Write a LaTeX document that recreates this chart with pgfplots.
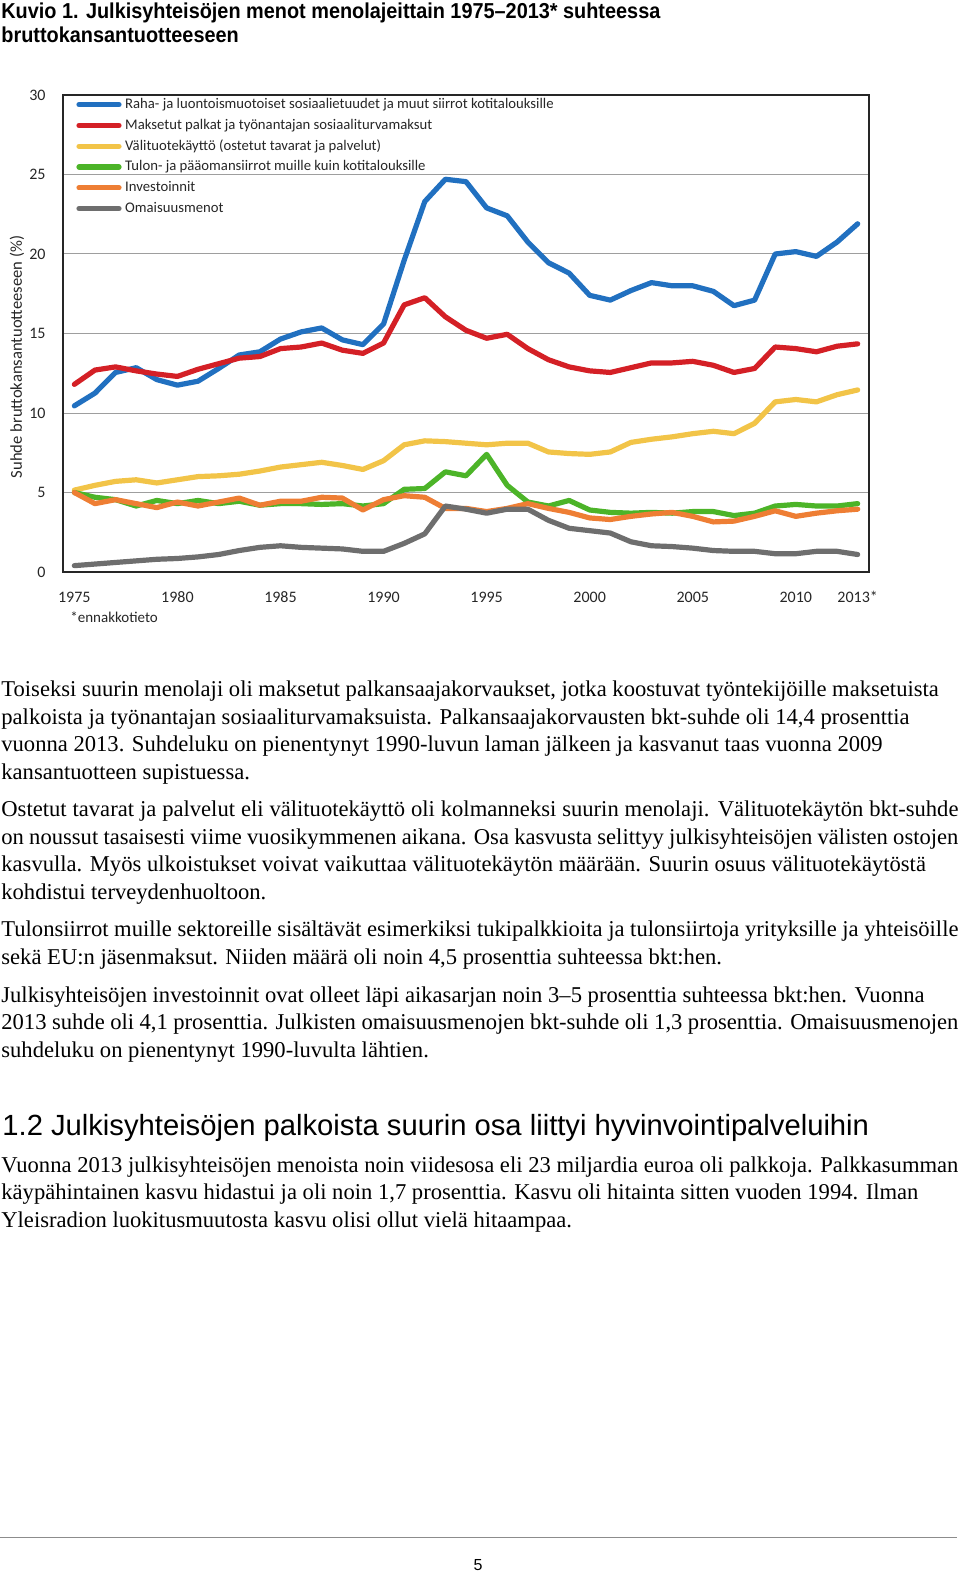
\documentclass[border=0pt]{standalone}
\usepackage{fontspec}
\setmainfont{Liberation Serif}
\newfontfamily\arialfont{Liberation Sans}
\newfontfamily\titlefont[FakeStretch=0.92]{Liberation Sans}
\newfontfamily\chartfont{Carlito}
\usepackage{pgfplots}
\usepackage{pgfplotstable}
\pgfplotsset{compat=1.18}

\definecolor{cblue}{RGB}{33,112,192}
\definecolor{cred}{RGB}{212,32,38}
\definecolor{cyellow}{RGB}{242,196,72}
\definecolor{cgreen}{RGB}{76,180,40}
\definecolor{corange}{RGB}{238,126,52}
\definecolor{cgray}{RGB}{110,110,110}

\newcommand{\fl}[1]{\makebox[478.5pt][s]{#1}}

% year, social benefits, wages, intermediate consumption, other transfers, investment, property
\pgfplotstableread{
year soc pay inter trans inv prop
1975 10.45 11.8 5.15 5.0 5.0 0.4
1976 11.25 12.7 5.45 4.7 4.3 0.5
1977 12.55 12.9 5.7 4.55 4.55 0.6
1978 12.85 12.65 5.8 4.15 4.3 0.7
1979 12.1 12.45 5.6 4.5 4.05 0.8
1980 11.75 12.3 5.8 4.3 4.4 0.85
1981 12.0 12.75 6.0 4.5 4.15 0.95
1982 12.8 13.1 6.05 4.3 4.4 1.1
1983 13.65 13.45 6.15 4.45 4.65 1.35
1984 13.85 13.55 6.35 4.2 4.2 1.55
1985 14.65 14.05 6.6 4.3 4.45 1.65
1986 15.1 14.15 6.75 4.3 4.45 1.55
1987 15.35 14.4 6.9 4.25 4.7 1.5
1988 14.6 13.95 6.7 4.3 4.65 1.45
1989 14.3 13.75 6.45 4.15 3.9 1.3
1990 15.6 14.4 7.0 4.3 4.55 1.3
1991 19.6 16.8 8.0 5.2 4.8 1.8
1992 23.3 17.25 8.25 5.25 4.7 2.4
1993 24.7 16.05 8.2 6.3 4.0 4.15
1994 24.55 15.2 8.1 6.05 4.0 3.95
1995 22.9 14.7 8.0 7.4 3.8 3.7
1996 22.4 14.95 8.1 5.45 4.0 3.95
1997 20.75 14.05 8.1 4.4 4.3 3.95
1998 19.45 13.35 7.55 4.15 4.0 3.25
1999 18.8 12.9 7.45 4.5 3.75 2.75
2000 17.4 12.65 7.4 3.9 3.4 2.6
2001 17.1 12.55 7.55 3.75 3.3 2.45
2002 17.7 12.85 8.15 3.7 3.5 1.9
2003 18.2 13.15 8.35 3.75 3.65 1.65
2004 18.0 13.15 8.5 3.7 3.75 1.6
2005 18.0 13.25 8.7 3.8 3.5 1.5
2006 17.65 13.0 8.85 3.8 3.15 1.35
2007 16.75 12.55 8.7 3.55 3.2 1.3
2008 17.1 12.8 9.35 3.7 3.5 1.3
2009 20.0 14.15 10.7 4.15 3.85 1.15
2010 20.15 14.05 10.85 4.25 3.5 1.15
2011 19.85 13.85 10.7 4.15 3.7 1.3
2012 20.75 14.2 11.15 4.15 3.85 1.3
2013 21.9 14.35 11.45 4.3 3.95 1.1
}\menot

\begin{document}
\begin{tikzpicture}
\useasboundingbox (0,0) rectangle (480pt,-786pt);

\begin{scope}[x=0.5pt,y=-0.5pt]
% title (base anchor = last line)
\node[anchor=base west, inner sep=0pt, align=left,
      font=\titlefont\bfseries\fontsize{10.8}{12}\selectfont] at (1,43)
  {Kuvio 1. Julkisyhteisöjen menot menolajeittain 1975–2013* suhteessa\\
   bruttokansantuotteeseen};

% chart texts
\node[rotate=90, inner sep=0pt, font=\chartfont\fontsize{8.3}{9}\selectfont, text=black!85]
  at (17,357) {Suhde bruttokansantuotteeseen (\%)};
\node[anchor=base west, inner sep=0pt, font=\chartfont\fontsize{7.5}{9}\selectfont, text=black!85]
  at (70,622) {*ennakkotieto};

% body text (base anchor = last line)
\begin{scope}[every node/.style={anchor=base west, inner sep=0pt, align=left,
      font=\fontsize{11.3}{13.75}\selectfont}]
\node at (1,779) {Toiseksi suurin menolaji oli maksetut palkansaajakorvaukset, jotka koostuvat työntekijöille maksetuista\\
palkoista ja työnantajan sosiaaliturvamaksuista. Palkansaajakorvausten bkt-suhde oli 14,4 prosenttia\\
vuonna 2013. Suhdeluku on pienentynyt 1990-luvun laman jälkeen ja kasvanut taas vuonna 2009\\
kansantuotteen supistuessa.};
\node at (1,899) {\fl{Ostetut tavarat ja palvelut eli välituotekäyttö oli kolmanneksi suurin menolaji. Välituotekäytön bkt-suhde}\\
\fl{on noussut tasaisesti viime vuosikymmenen aikana. Osa kasvusta selittyy julkisyhteisöjen välisten ostojen}\\
kasvulla. Myös ulkoistukset voivat vaikuttaa välituotekäytön määrään. Suurin osuus välituotekäytöstä\\
kohdistui terveydenhuoltoon.};
\node at (1,964) {\fl{Tulonsiirrot muille sektoreille sisältävät esimerkiksi tukipalkkioita ja tulonsiirtoja yrityksille ja yhteisöille}\\
sekä EU:n jäsenmaksut. Niiden määrä oli noin 4,5 prosenttia suhteessa bkt:hen.};
\node at (1,1057) {Julkisyhteisöjen investoinnit ovat olleet läpi aikasarjan noin 3–5 prosenttia suhteessa bkt:hen. Vuonna\\
\fl{2013 suhde oli 4,1 prosenttia. Julkisten omaisuusmenojen bkt-suhde oli 1,3 prosenttia. Omaisuusmenojen}\\
suhdeluku on pienentynyt 1990-luvulta lähtien.};
\node at (1,1227) {\fl{Vuonna 2013 julkisyhteisöjen menoista noin viidesosa eli 23 miljardia euroa oli palkkoja. Palkkasumman}\\
käypähintainen kasvu hidastui ja oli noin 1,7 prosenttia. Kasvu oli hitainta sitten vuoden 1994. Ilman\\
Yleisradion luokitusmuutosta kasvu olisi ollut vielä hitaampaa.};
\end{scope}

\node[anchor=base west, inner sep=0pt, font=\arialfont\fontsize{14.6}{16}\selectfont]
  at (2,1135) {1.2 Julkisyhteisöjen palkoista suurin osa liittyi hyvinvointipalveluihin};

% footer
\draw[black!45, line width=0.5pt] (0,1537) -- (957,1537);
\node[anchor=base, inner sep=0pt, font=\arialfont\fontsize{8}{9}\selectfont] at (478,1570) {5};
\end{scope}

\begin{axis}[
  at={(31.5pt,-286pt)}, anchor=south west,
  scale only axis, width=403pt, height=238.5pt,
  xmin=1974.45, xmax=2013.55, ymin=0, ymax=30,
  xtick={1975,1980,1985,1990,1995,2000,2005,2010,2013},
  xticklabels={1975,1980,1985,1990,1995,2000,2005,2010,2013*},
  ytick={0,5,...,30},
  ymajorgrids, grid style={draw=black!38, line width=0.5pt},
  major tick length=0pt,
  axis line style={draw=black!85, line width=0.7pt},
  tick label style={font=\chartfont\fontsize{8}{9}\selectfont, text=black!85},
  /pgf/number format/assume math mode=true,
  xticklabel style={inner sep=0pt, yshift=-9.5pt, text height=5.5pt, text depth=0pt},
  yticklabel style={inner sep=0pt, xshift=-8.5pt},
  every axis plot/.append style={line width=2.6pt, line join=round, line cap=round, mark=none},
  legend cell align=left,
  legend style={at={(0,1)}, anchor=north west, xshift=6.5pt, yshift=-1.2pt,
    draw=none, fill=none, inner sep=0pt, row sep=3.5pt,
    font=\chartfont\fontsize{7.35}{8}\selectfont, text=black!85,
    nodes={inner sep=0pt, text height=5.4pt, text depth=1.5pt},
    /tikz/every odd column/.style={column sep=1.8pt}},
  legend image code/.code={\draw[#1, line width=2.6pt, line cap=round] (0pt,0pt) -- (20pt,0pt);},
]
\addplot[cblue] table[x=year, y=soc] {\menot};
\addlegendentry{Raha- ja luontoismuotoiset sosiaalietuudet ja muut siirrot kotitalouksille}
\addplot[cred] table[x=year, y=pay] {\menot};
\addlegendentry{Maksetut palkat ja työnantajan sosiaaliturvamaksut}
\addplot[cyellow] table[x=year, y=inter] {\menot};
\addlegendentry{Välituotekäyttö (ostetut tavarat ja palvelut)}
\addplot[cgreen] table[x=year, y=trans] {\menot};
\addlegendentry{Tulon- ja pääomansiirrot muille kuin kotitalouksille}
\addplot[corange] table[x=year, y=inv] {\menot};
\addlegendentry{Investoinnit}
\addplot[cgray] table[x=year, y=prop] {\menot};
\addlegendentry{Omaisuusmenot}
\end{axis}
\end{tikzpicture}
\end{document}
